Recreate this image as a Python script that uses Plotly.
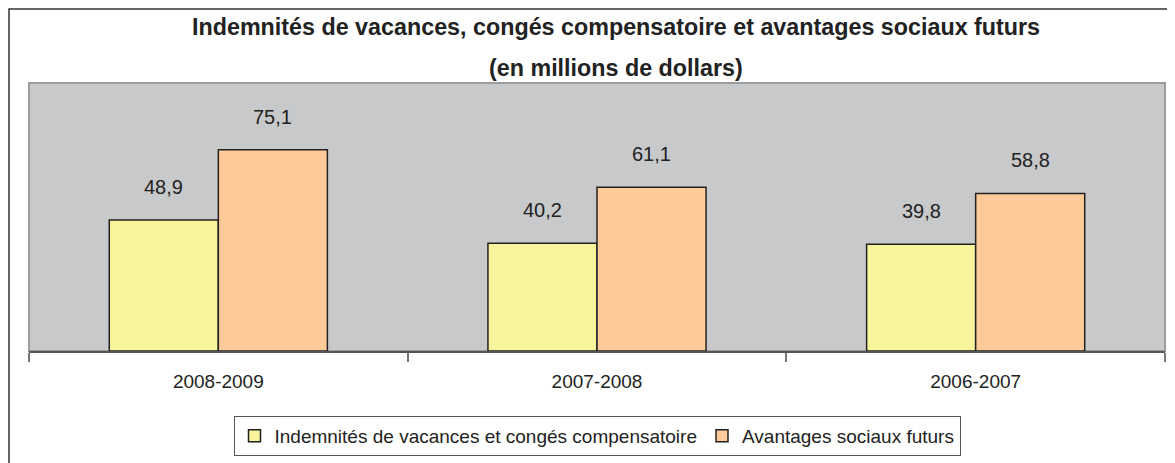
import plotly.graph_objects as go

periodes = ['2008-2009', '2007-2008', '2006-2007']
indemnites = [48.9, 40.2, 39.8]
avantages = [75.1, 61.1, 58.8]

nom_indemnites = 'Indemnités de vacances et congés compensatoire'
nom_avantages = 'Avantages sociaux futurs'

titre_1 = 'Indemnités de vacances, congés compensatoire et avantages sociaux futurs'
titre_2 = '(en millions de dollars)'

FONT = 'Liberation Sans, Arial, sans-serif'

fig = go.Figure()

fig.add_trace(go.Bar(
    x=periodes,
    y=indemnites,
    name=nom_indemnites,
    marker=dict(color='#F7F49B', line=dict(color='#222222', width=1.5))
))

fig.add_trace(go.Bar(
    x=periodes,
    y=avantages,
    name=nom_avantages,
    marker=dict(color='#FECB98', line=dict(color='#222222', width=1.5))
))

# value labels sit well above each bar, with a comma as decimal mark
for periode, v1, v2 in zip(periodes, indemnites, avantages):
    for val, dx in ((v1, -54.5), (v2, 54.5)):
        fig.add_annotation(
            x=periode, y=val, xref='x', yref='y',
            text=f'{val:.1f}'.replace('.', ','),
            showarrow=False, xshift=dx, yshift=20, yanchor='bottom',
            font=dict(family=FONT, size=20, color='#222222')
        )

# two-line title, with the wide line spacing of the original
for txt, ypos in ((titre_1, 1.209), (titre_2, 1.056)):
    fig.add_annotation(
        x=0.5163, y=ypos, xref='paper', yref='paper',
        text=f'<b>{txt}</b>', showarrow=False,
        xanchor='center', yanchor='middle',
        font=dict(family=FONT, size=23.3, color='#222222')
    )

# plot area frame and outer chart frame
fig.add_shape(type='rect', xref='paper', yref='paper', x0=0, y0=0, x1=1, y1=1,
              line=dict(color='#9C9C9C', width=2), fillcolor='rgba(0,0,0,0)', layer='below')
fig.add_shape(type='rect', xref='paper', yref='paper', x0=-0.0176, y0=-0.5, x1=1.03, y1=1.276,
              line=dict(color='#333333', width=1.5), fillcolor='rgba(0,0,0,0)')

# the page body adds an 8px offset, so margins are shifted to compensate
fig.update_layout(
    width=1175,
    height=463,
    margin=dict(l=21, r=18, t=75, b=120, autoexpand=False),
    paper_bgcolor='white',
    plot_bgcolor='#C8C9CB',
    barmode='group',
    bargap=0.424,
    bargroupgap=0,
    font=dict(family=FONT, size=19, color='#222222'),
    showlegend=True,
    legend=dict(
        orientation='h',
        x=0.5, xanchor='center', y=-0.2425, yanchor='top',
        bordercolor='#555555', borderwidth=1,
        font=dict(family=FONT, size=19, color='#222222')
    ),
    xaxis=dict(
        showline=True, linecolor='#555555', linewidth=2,
        ticks='outside', tickson='boundaries', ticklen=9, tickcolor='#777777', tickwidth=2,
        ticklabelstandoff=12,
        tickfont=dict(family=FONT, size=19, color='#222222'),
        showgrid=False
    ),
    yaxis=dict(
        range=[0, 100], visible=False, showgrid=False, zeroline=False
    )
)

fig.write_html('out.html')
